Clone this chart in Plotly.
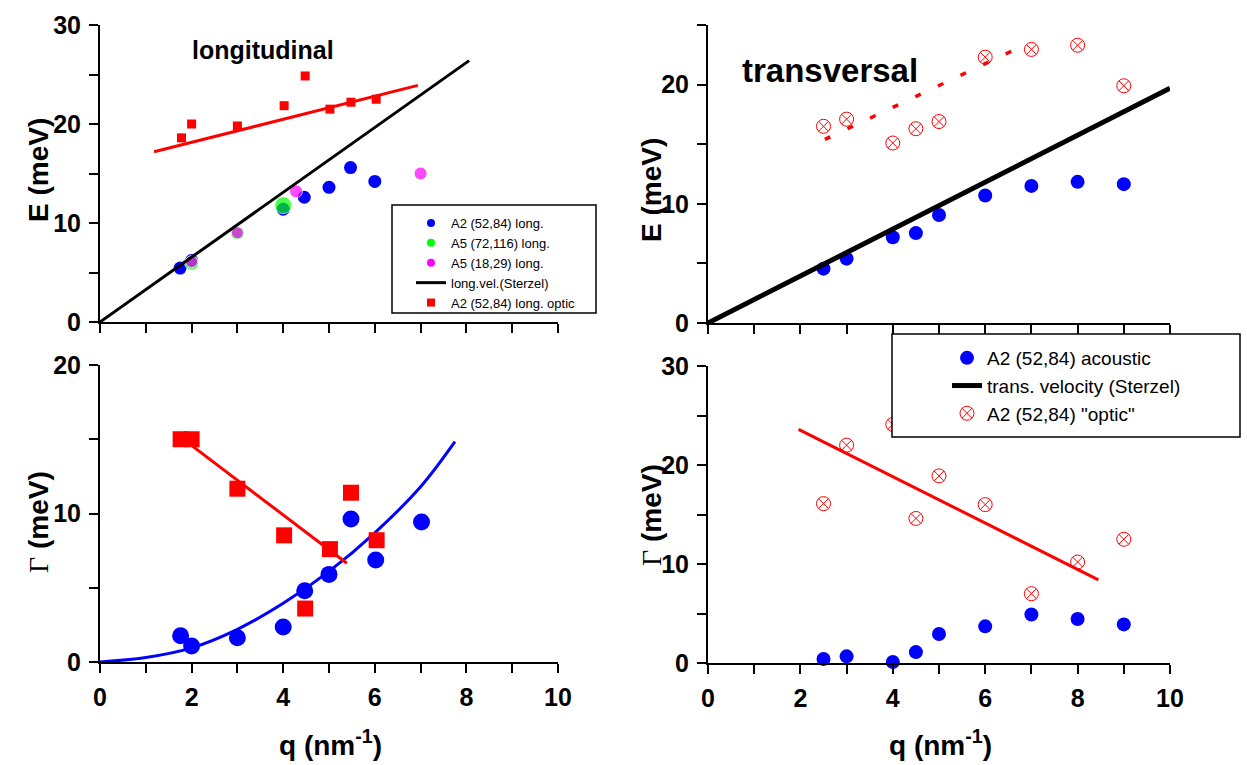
import plotly.graph_objects as go

W, H = 1247, 765

# ---------------- data ----------------
# top-left: longitudinal dispersion E(q)
q_tl_a2 = [1.75, 2.0, 4.0, 4.46, 5.0, 5.47, 6.0]
e_tl_a2 = [5.45, 6.2, 11.4, 12.6, 13.6, 15.6, 14.2]
q_tl_a5a = [2.0, 3.0, 4.0]
e_tl_a5a = [5.95, 9.0, 11.8]
q_tl_a5b = [2.0, 3.0, 4.28, 7.0]
e_tl_a5b = [6.1, 9.0, 13.2, 15.0]
q_tl_opt = [1.78, 2.0, 3.0, 4.02, 4.48, 5.02, 5.48, 6.03]
e_tl_opt = [18.6, 20.0, 19.8, 21.85, 24.85, 21.5, 22.2, 22.5]
q_tl_optfit = [1.18, 6.94]
e_tl_optfit = [17.2, 23.9]
q_tl_vel = [0.0, 8.06]
e_tl_vel = [0.0, 26.4]

# bottom-left: longitudinal widths Gamma(q)
q_bl_ac = [1.76, 2.0, 3.0, 4.0, 4.47, 5.0, 5.48, 6.02, 7.02]
g_bl_ac = [1.77, 1.08, 1.64, 2.36, 4.8, 5.9, 9.63, 6.87, 9.43]
q_bl_op = [1.76, 2.0, 3.0, 4.02, 4.48, 5.02, 5.48, 6.04]
g_bl_op = [15.0, 15.0, 11.67, 8.53, 3.6, 7.6, 11.4, 8.2]
q_bl_opfit = [1.89, 5.39]
g_bl_opfit = [14.84, 6.65]
q_bl_acfit = [0, 1, 2, 3, 4, 5, 6, 7, 7.75]
g_bl_acfit = [0, 0.3, 0.95, 2.2, 3.95, 6.1, 8.7, 11.8, 14.84]

# top-right: transversal dispersion
q_tr = [2.5, 3, 4, 4.5, 5, 6, 7, 8, 9]
e_tr_ac = [4.56, 5.4, 7.2, 7.54, 9.06, 10.7, 11.5, 11.84, 11.65]
e_tr_op = [16.5, 17.1, 15.1, 16.3, 16.9, 22.3, 22.95, 23.3, 19.9]
q_tr_opfit = [2.53, 6.68]
e_tr_opfit = [15.4, 23.0]
q_tr_vel = [0.0, 10.0]
e_tr_vel = [0.0, 19.7]

# bottom-right: transversal widths
g_br_ac = [0.4, 0.67, 0.1, 1.1, 2.93, 3.7, 4.9, 4.45, 3.9]
g_br_op = [16.1, 22.0, 24.1, 14.6, 18.9, 16.0, 7.0, 10.2, 12.5]
q_br_opfit = [1.96, 8.45]
g_br_opfit = [23.6, 8.4]

BLUE, GREEN, MAG, RED = "#0000ff", "#00ff00", "#ff00ff", "#ff0000"
FONT = "Liberation Sans"

fig = go.Figure()

def sc(x, y, xa, ya, **kw):
    kw.setdefault("showlegend", False)
    kw.setdefault("cliponaxis", False)
    fig.add_trace(go.Scatter(x=x, y=y, xaxis=xa, yaxis=ya, **kw))

# top-left
sc(q_tl_a2, e_tl_a2, "x", "y", mode="markers", marker=dict(color=BLUE, size=13))
sc(q_tl_a5a, e_tl_a5a, "x", "y", mode="markers", marker=dict(color=GREEN, size=[14, 14, 17]))
sc(q_tl_a5b, e_tl_a5b, "x", "y", mode="markers", marker=dict(color=MAG, size=[12, 12, 13, 13]))
sc(q_tl_vel, e_tl_vel, "x", "y", mode="lines", line=dict(color="black", width=3))
sc(q_tl_optfit, e_tl_optfit, "x", "y", mode="lines", line=dict(color=RED, width=3))
sc(q_tl_opt, e_tl_opt, "x", "y", mode="markers", marker=dict(color=RED, size=9, symbol="square"))

# legend proxies for top-left legend
for nm, kw in [
    ("A2 (52,84) long.", dict(mode="markers", marker=dict(color=BLUE, size=8))),
    ("A5 (72,116) long.", dict(mode="markers", marker=dict(color=GREEN, size=8))),
    ("A5 (18,29) long.", dict(mode="markers", marker=dict(color=MAG, size=8))),
    ("long.vel.(Sterzel)", dict(mode="lines", line=dict(color="black", width=3))),
    ("A2 (52,84) long. optic", dict(mode="markers", marker=dict(color=RED, size=8, symbol="square"))),
]:
    fig.add_trace(go.Scatter(x=[None], y=[None], xaxis="x", yaxis="y", name=nm,
                             showlegend=True, legend="legend", **kw))

# bottom-left
sc(q_bl_acfit, g_bl_acfit, "x2", "y2", mode="lines", line=dict(color=BLUE, width=3, shape="spline"))
sc(q_bl_ac, g_bl_ac, "x2", "y2", mode="markers", marker=dict(color=BLUE, size=17))
sc(q_bl_op, g_bl_op, "x2", "y2", mode="markers", marker=dict(color=RED, size=16, symbol="square"))
sc(q_bl_opfit, g_bl_opfit, "x2", "y2", mode="lines", line=dict(color=RED, width=3))

# top-right
sc(q_tr, e_tr_ac, "x3", "y3", mode="markers", marker=dict(color=BLUE, size=14),
   name="A2 (52,84) acoustic", showlegend=True, legend="legend2")
sc(q_tr_vel, e_tr_vel, "x3", "y3", mode="lines", line=dict(color="black", width=5),
   name="trans. velocity (Sterzel)", showlegend=True, legend="legend2")
sc(q_tr, e_tr_op, "x3", "y3", mode="markers",
   marker=dict(color=RED, size=14, symbol="circle-x-open", line=dict(width=1, color=RED)),
   name='A2 (52,84) "optic"', showlegend=True, legend="legend2")
sc(q_tr_opfit, e_tr_opfit, "x3", "y3", mode="lines", line=dict(color=RED, width=3.5, dash="6px,19px"))

# bottom-right
sc(q_tr, g_br_ac, "x4", "y4", mode="markers", marker=dict(color=BLUE, size=14))
sc(q_tr, g_br_op, "x4", "y4", mode="markers",
   marker=dict(color=RED, size=14, symbol="circle-x-open", line=dict(width=1, color=RED)))
sc(q_br_opfit, g_br_opfit, "x4", "y4", mode="lines", line=dict(color=RED, width=3))

# ---------------- axes ----------------
tickfont = dict(family=FONT, size=25, color="black", weight="bold")
base = dict(showline=True, linecolor="black", linewidth=2, ticks="outside", ticklen=9,
            tickwidth=2, tickcolor="black", showgrid=False, zeroline=False,
            tickfont=tickfont, fixedrange=True, ticklabelstandoff=3, automargin=False)

xl = [100 / W, 558 / W]
xr = [708 / W, 1170 / W]
xticks = list(range(11))
xlab = [str(v) if v % 2 == 0 else "" for v in xticks]
blank = [""] * 11

def ylab(vals):
    return [str(v) if v % 10 == 0 else "" for v in vals]

yt30 = list(range(0, 31, 5))
yt20 = list(range(0, 21, 5))
yt25 = list(range(0, 26, 5))

fig.update_layout(
    xaxis=dict(base, domain=xl, anchor="y", range=[0, 10], tickvals=xticks, ticktext=blank),
    yaxis=dict(base, domain=[1 - 322 / H, 1 - 25 / H], anchor="x", range=[0, 30], tickvals=yt30, ticktext=ylab(yt30)),
    xaxis2=dict(base, domain=xl, anchor="y2", range=[0, 10], tickvals=xticks, ticktext=xlab),
    yaxis2=dict(base, domain=[1 - 662 / H, 1 - 365 / H], anchor="x2", range=[0, 20], tickvals=yt20, ticktext=ylab(yt20)),
    xaxis3=dict(base, domain=xr, anchor="y3", range=[0, 10], tickvals=xticks, ticktext=blank),
    yaxis3=dict(base, domain=[1 - 323 / H, 1 - 25 / H], anchor="x3", range=[0, 25], tickvals=yt25, ticktext=ylab(yt25)),
    xaxis4=dict(base, domain=xr, anchor="y4", range=[0, 10], tickvals=xticks, ticktext=xlab),
    yaxis4=dict(base, domain=[1 - 663 / H, 1 - 366 / H], anchor="x4", range=[0, 30], tickvals=yt30, ticktext=ylab(yt30)),
)

# ---------------- legends (boxes drawn as shapes) ----------------
fig.add_shape(type="rect", xref="paper", yref="paper",
              x0=392 / W, x1=596 / W, y0=1 - 313 / H, y1=1 - 205 / H,
              line=dict(color="black", width=1.5), fillcolor="white", layer="above")
fig.add_shape(type="rect", xref="paper", yref="paper",
              x0=892 / W, x1=1240 / W, y0=1 - 437 / H, y1=1 - 334 / H,
              line=dict(color="black", width=1.5), fillcolor="white", layer="above")

fig.update_layout(
    legend=dict(x=411 / W, y=1 - 208 / H, xanchor="left", yanchor="top",
                bgcolor="rgba(0,0,0,0)", borderwidth=0, tracegroupgap=0,
                font=dict(family=FONT, size=13, color="black")),
    legend2=dict(x=947 / W, y=1 - 339 / H, xanchor="left", yanchor="top",
                 bgcolor="rgba(0,0,0,0)", borderwidth=0, tracegroupgap=0,
                 font=dict(family=FONT, size=19, color="black")),
)

# ---------------- text ----------------
def ann(text, x, y, size, angle=0, xanchor="center"):
    fig.add_annotation(text=text, x=x / W, y=1 - y / H, xref="paper", yref="paper",
                       showarrow=False, textangle=angle, xanchor=xanchor, yanchor="middle",
                       font=dict(family=FONT, size=size, color="black", weight="bold"))

ann("longitudinal", 263, 50, 25)
ann("transversal", 740, 70, 33, xanchor="left")
ann("E (meV)", 38, 170, 28, -90)
ann("E (meV)", 651, 190, 28, -90)
gam = '<span style="font-family:Liberation Serif;font-weight:normal">Γ</span> (meV)'
ann(gam, 38, 522, 28, -90)
ann(gam, 651, 515, 28, -90)
ann("q (nm<sup>-1</sup>)", 330, 743, 28)
ann("q (nm<sup>-1</sup>)", 940, 743, 28)

fig.update_layout(width=W, height=H, margin=dict(l=0, r=0, t=0, b=0, autoexpand=False),
                  plot_bgcolor="white", paper_bgcolor="white")

fig.write_html("out.html", config={"displayModeBar": False},
               post_script="document.body.style.margin='0';document.body.style.padding='0';")
